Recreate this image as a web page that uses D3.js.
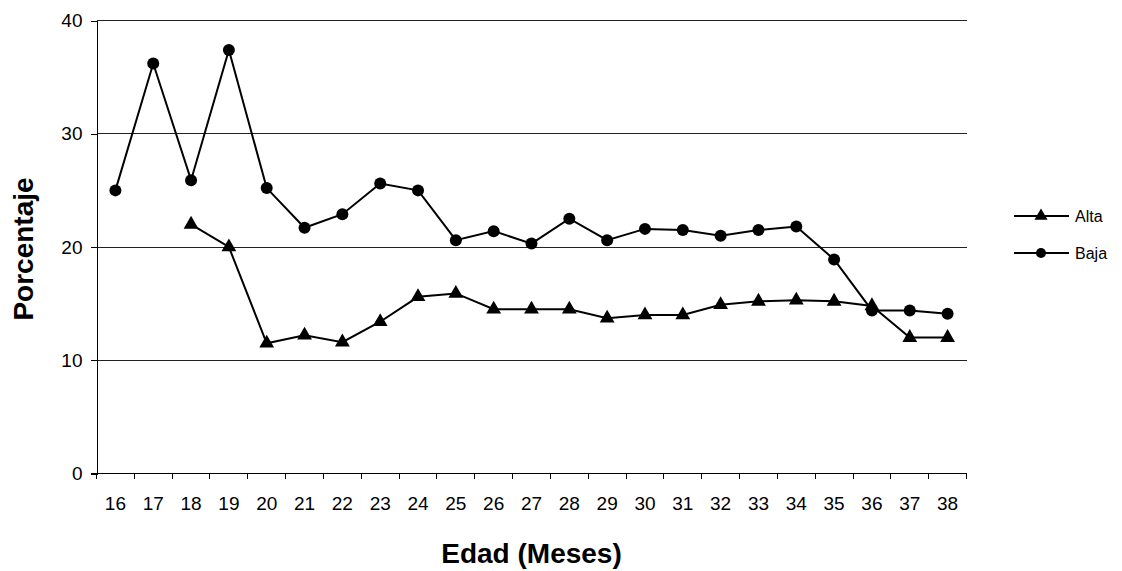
<!DOCTYPE html>
<html>
<head>
<meta charset="utf-8">
<script src="https://cdn.jsdelivr.net/npm/d3@7"></script>
<style>
  html, body { margin: 0; padding: 0; background: #fff; }
  svg { display: block; font-family: "Liberation Sans", Arial, sans-serif; }
</style>
</head>
<body>
<svg id="chart" width="1122" height="571"></svg>
<script>
// Edad en meses
const ages = ["16","17","18","19","20","21","22","23","24","25","26","27","28","29","30","31","32","33","34","35","36","37","38"];
// Porcentaje por grupo (null = sin dato)
const alta = [null, null, 22.0, 20.0, 11.5, 12.2, 11.6, 13.4, 15.6, 15.9, 14.5, 14.5, 14.5, 13.7, 14.0, 14.0, 14.9, 15.2, 15.3, 15.2, 14.8, 12.0, 12.0];
const baja = [25.0, 36.2, 25.9, 37.4, 25.2, 21.7, 22.9, 25.6, 25.0, 20.6, 21.4, 20.3, 22.5, 20.6, 21.6, 21.5, 21.0, 21.5, 21.8, 18.9, 14.4, 14.4, 14.1];
const yTicks = [0, 10, 20, 30, 40];
const seriesNames = ["Alta", "Baja"];

const svg = d3.select("#chart");
const plotLeft = 96.5, plotRight = 966.5, plotTop = 20.5, plotBottom = 473.5;

const x = d3.scaleBand().domain(ages).range([plotLeft, plotRight]).padding(0);
const y = d3.scaleLinear().domain([0, 40]).range([plotBottom, plotTop]);
const cx = d => x(d) + x.bandwidth() / 2;

// horizontal gridlines
svg.append("g")
  .selectAll("line")
  .data(yTicks.filter(t => t > 0))
  .join("line")
  .attr("x1", plotLeft).attr("x2", plotRight)
  .attr("y1", d => y(d)).attr("y2", d => y(d))
  .attr("stroke", "#222").attr("stroke-width", 1)
  .attr("shape-rendering", "crispEdges");

// y axis
const yAxis = svg.append("g")
  .attr("transform", `translate(${plotLeft},0)`)
  .call(d3.axisLeft(y).tickValues(yTicks).tickSize(6).tickPadding(8).tickFormat(d3.format("d")));
yAxis.select(".domain").attr("stroke", "#000").attr("shape-rendering", "crispEdges");
yAxis.selectAll(".tick line").attr("stroke", "#000").attr("shape-rendering", "crispEdges");
yAxis.selectAll(".tick text")
  .attr("font-family", "Liberation Sans, Arial, sans-serif")
  .attr("font-size", 19).attr("fill", "#000");

// x axis: baseline, ticks at category boundaries, labels centred in each band
const xg = svg.append("g");
xg.append("line")
  .attr("x1", plotLeft - 6).attr("x2", plotRight)
  .attr("y1", plotBottom).attr("y2", plotBottom)
  .attr("stroke", "#000").attr("shape-rendering", "crispEdges");
const edges = ages.map(a => x(a)).concat([plotRight]);
xg.selectAll("line.tk")
  .data(edges)
  .join("line")
  .attr("class", "tk")
  .attr("x1", d => d).attr("x2", d => d)
  .attr("y1", plotBottom).attr("y2", plotBottom + 5)
  .attr("stroke", "#000").attr("shape-rendering", "crispEdges");
xg.selectAll("text")
  .data(ages)
  .join("text")
  .attr("x", d => cx(d))
  .attr("y", 510)
  .attr("text-anchor", "middle")
  .attr("font-size", 19)
  .attr("fill", "#000")
  .text(d => d);

// axis titles
svg.append("text")
  .attr("x", (plotLeft + plotRight) / 2).attr("y", 563)
  .attr("text-anchor", "middle")
  .attr("font-size", 28).attr("font-weight", "bold")
  .text("Edad (Meses)");
svg.append("text")
  .attr("transform", "translate(33,249) rotate(-90)")
  .attr("text-anchor", "middle")
  .attr("font-size", 28).attr("font-weight", "bold")
  .text("Porcentaje");

// series
const triangle = d3.symbol().type(d3.symbolTriangle);
const line = d3.line()
  .defined(d => d.v != null)
  .x(d => cx(d.a))
  .y(d => y(d.v));

function drawSeries(values, kind) {
  const pts = ages.map((a, i) => ({ a, v: values[i] }));
  const g = svg.append("g");
  g.append("path")
    .datum(pts)
    .attr("d", line)
    .attr("fill", "none")
    .attr("stroke", "#000")
    .attr("stroke-width", 2);
  const valid = pts.filter(d => d.v != null);
  if (kind === "circle") {
    g.selectAll("circle").data(valid).join("circle")
      .attr("cx", d => cx(d.a)).attr("cy", d => y(d.v))
      .attr("r", 6).attr("fill", "#000");
  } else {
    g.selectAll("path.m").data(valid).join("path")
      .attr("class", "m")
      .attr("d", triangle.size(95)())
      .attr("transform", d => `translate(${cx(d.a)},${y(d.v)})`)
      .attr("fill", "#000");
  }
}
drawSeries(baja, "circle");
drawSeries(alta, "triangle");

// legend
const legend = svg.append("g");
const legendRows = [
  { name: seriesNames[0], kind: "triangle", yy: 216 },
  { name: seriesNames[1], kind: "circle", yy: 253 }
];
legendRows.forEach(r => {
  legend.append("line")
    .attr("x1", 1014).attr("x2", 1069)
    .attr("y1", r.yy).attr("y2", r.yy)
    .attr("stroke", "#000").attr("stroke-width", 2);
  if (r.kind === "circle") {
    legend.append("circle").attr("cx", 1041).attr("cy", r.yy).attr("r", 5).attr("fill", "#000");
  } else {
    legend.append("path")
      .attr("d", triangle.size(75)())
      .attr("transform", `translate(1041,${r.yy})`)
      .attr("fill", "#000");
  }
  legend.append("text")
    .attr("x", 1075).attr("y", r.yy + 6)
    .attr("font-size", 16)
    .attr("fill", "#000")
    .text(r.name);
});
</script>
</body>
</html>
